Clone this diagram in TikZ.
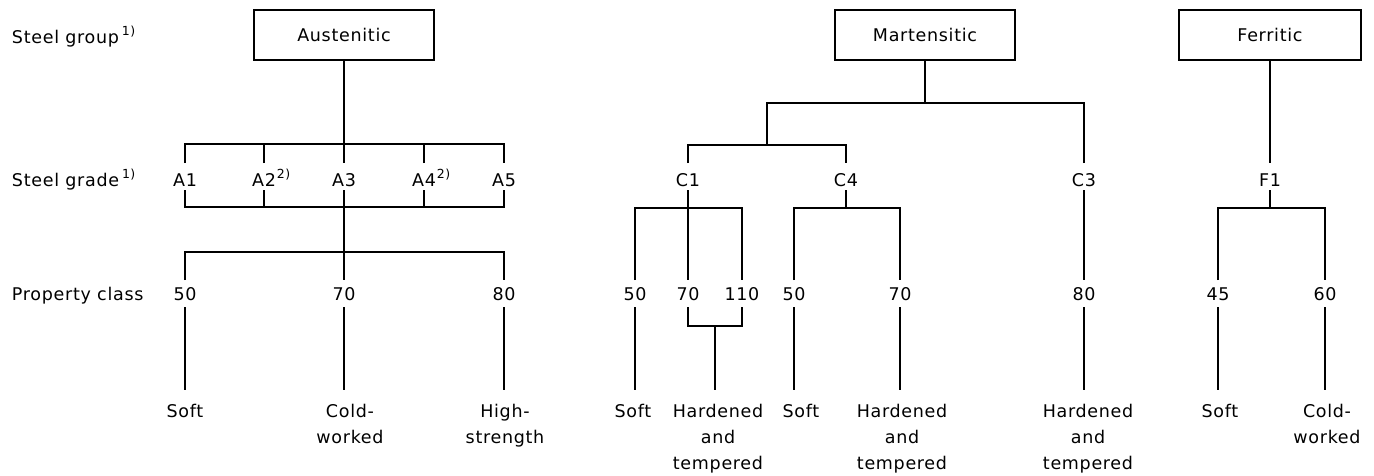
\documentclass[tikz,border=0pt]{standalone}
\usepackage{fontspec}
\setmainfont{DejaVu Sans}[LetterSpace=4.0]
\usetikzlibrary{calc}
\newcommand\myss[1]{\raisebox{7.5pt}{\fontsize{12.5}{13}\selectfont #1}}
\tikzset{
  lbl/.style={inner sep=0pt, outer sep=0pt, anchor=base, font=\fontsize{17.5}{26}\selectfont},
  rowlbl/.style={lbl, anchor=base west},
  btm/.style={inner sep=0pt, outer sep=0pt, anchor=north, align=center, font=\fontsize{17.5}{26}\selectfont},
  grp/.style={draw, line width=1.5pt, minimum width=180pt, minimum height=50pt, inner sep=0pt, font=\fontsize{17.5}{26}\selectfont},
  ln/.style={line width=1.4pt}
}
\begin{document}
\begin{tikzpicture}[x=1pt,y=-1pt]
\useasboundingbox (0,0) rectangle (1374,475);
% row labels
\node[rowlbl] (lgroup) at (12,43) {Steel group\,\myss{1)}};
\node[rowlbl] (lgrade) at (12,186) {Steel grade\,\myss{1)}};
\node[rowlbl] (lprop) at (12,300) {Property class};

% ---------------- Austenitic ----------------
\node[grp] (aus) at (344,35) {Austenitic};
\node[lbl] (A1) at (185,186) {A1};
\node[lbl] (A2) at (264,186) {A2\rlap{\kern1pt\myss{2)}}};
\node[lbl] (A3) at (344,186) {A3};
\node[lbl] (A4) at (424,186) {A4\rlap{\kern1pt\myss{2)}}};
\node[lbl] (A5) at (504,186) {A5};
\node[lbl] (pa50) at (185,300) {50};
\node[lbl] (pa70) at (344,300) {70};
\node[lbl] (pa80) at (504,300) {80};
\node[btm] (ta50) at (185,404.5) {Soft};
\node[btm] (ta70) at (350,404.5) {Cold-\\worked};
\node[btm] (ta80) at (505,404.5) {High-\\strength};

\draw[ln] (aus.south) -- ([yshift=23pt]A3.base);
\draw[ln] ([yshift=23pt]A1.base) -- ++(0,-19) -| ([yshift=23pt]A5.base);
\foreach \n in {A2,A4} \draw[ln] ([yshift=23pt]\n.base) -- ++(0,-19);
\draw[ln] ([yshift=-4pt]A1.base) -- ++(0,17) -| ([yshift=-4pt]A5.base);
\foreach \n in {A2,A4} \draw[ln] ([yshift=-4pt]\n.base) -- ++(0,17);
\draw[ln] ([yshift=-4pt]A3.base) -- ([yshift=20pt]pa70.base);
\draw[ln] ([yshift=20pt]pa50.base) -- ++(0,-28) -| ([yshift=20pt]pa80.base);
\foreach \n in {pa50,pa70,pa80} \draw[ln] ([yshift=-7pt]\n.base) -- ++(0,83);

% ---------------- Martensitic ----------------
\node[grp] (mar) at (925,35) {Martensitic};
\node[lbl] (C1) at (688,186) {C1};
\node[lbl] (C4) at (846,186) {C4};
\node[lbl] (C3) at (1084,186) {C3};
\coordinate (cj) at (767,103);
\coordinate (cj2) at (767,145);
\draw[ln] (mar.south) -- ++(0,43);
\draw[ln] ([yshift=23pt]C3.base) |- (cj) -- (cj2);
\draw[ln] ([yshift=23pt]C1.base) -- ++(0,-18) -| ([yshift=23pt]C4.base);

\node[lbl] (q50) at (635,300) {50};
\node[lbl] (q70) at (688,300) {70};
\node[lbl] (q110) at (742,300) {110};
\node[btm] (tq50) at (633,404.5) {Soft};
\node[btm] (tq70) at (718,404.5) {Hardened\\and\\tempered};
\draw[ln] ([yshift=-4pt]C1.base) -- ([yshift=20pt]q70.base);
\draw[ln] ([yshift=20pt]q50.base) -- ++(0,-72) -| ([yshift=20pt]q110.base);
\draw[ln] ([yshift=-7pt]q50.base) -- ++(0,83);
\draw[ln] ([yshift=-7pt]q70.base) -- ++(0,19) coordinate (qa) -- (qa -| q110) coordinate (qb) -- ([yshift=-7pt]q110.base);
\draw[ln] ($(qa)!0.5!(qb)$) -- ++(0,64);

\node[lbl] (r50) at (794,300) {50};
\node[lbl] (r70) at (900,300) {70};
\node[btm] (tr50) at (801,404.5) {Soft};
\node[btm] (tr70) at (902,404.5) {Hardened\\and\\tempered};
\draw[ln] ([yshift=-4pt]C4.base) -- ++(0,18);
\draw[ln] ([yshift=20pt]r50.base) -- ++(0,-72) -| ([yshift=20pt]r70.base);
\foreach \n in {r50,r70} \draw[ln] ([yshift=-7pt]\n.base) -- ++(0,83);

\node[lbl] (s80) at (1084,300) {80};
\node[btm] (ts80) at (1088,404.5) {Hardened\\and\\tempered};
\draw[ln] ([yshift=-4pt]C3.base) -- ([yshift=20pt]s80.base);
\draw[ln] ([yshift=-7pt]s80.base) -- ++(0,83);

% ---------------- Ferritic ----------------
\node[grp, minimum width=182pt] (fer) at (1270,35) {Ferritic};
\node[lbl] (F1) at (1270,186) {F1};
\node[lbl] (f45) at (1218,300) {45};
\node[lbl] (f60) at (1325,300) {60};
\node[btm] (tf45) at (1220,404.5) {Soft};
\node[btm] (tf60) at (1327,404.5) {Cold-\\worked};
\draw[ln] (fer.south) -- ([yshift=23pt]F1.base);
\draw[ln] ([yshift=-4pt]F1.base) -- ++(0,18);
\draw[ln] ([yshift=20pt]f45.base) -- ++(0,-72) -| ([yshift=20pt]f60.base);
\foreach \n in {f45,f60} \draw[ln] ([yshift=-7pt]\n.base) -- ++(0,83);
\end{tikzpicture}
\end{document}
